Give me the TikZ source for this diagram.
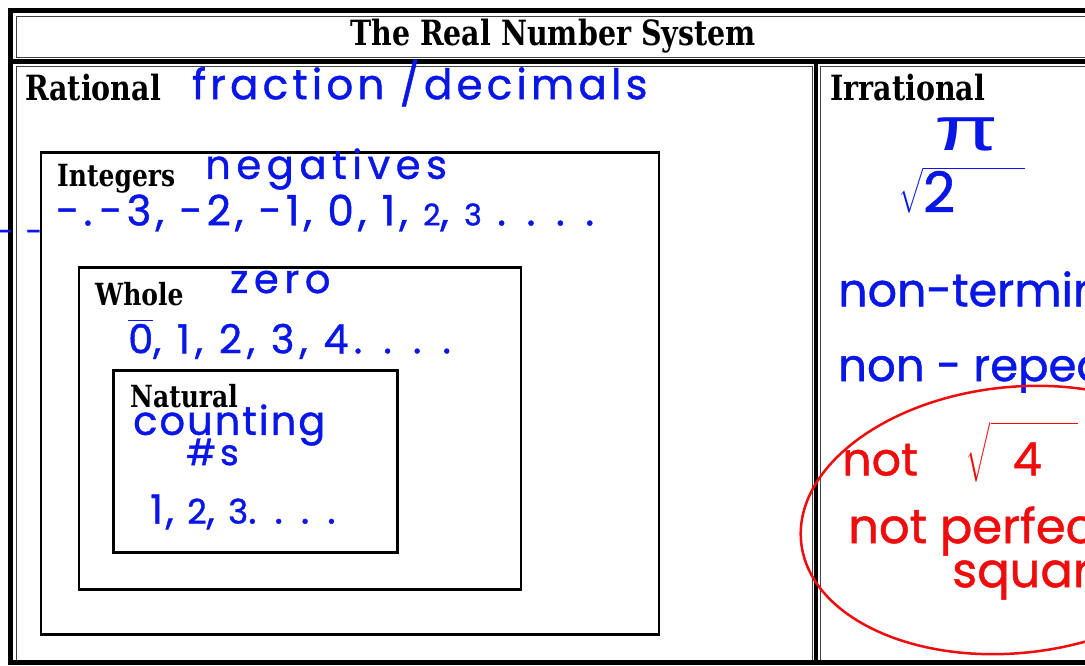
\documentclass[tikz,border=0pt]{standalone}
\usepackage{fontspec}
\usepackage{exscale}
\usetikzlibrary{shadows}
\newfontfamily\headfont{DejaVu Serif}
\newfontfamily\hand{Poppins}[FakeBold=1]
\newfontfamily\greekhand{Liberation Sans}
\definecolor{pen}{RGB}{8,22,232}
\definecolor{redpen}{RGB}{238,12,12}
\newcommand\tall[1]{\scalebox{1}[1.22]{#1}}
\tikzset{
  lbl/.style={anchor=west, inner sep=0pt, font=\headfont\bfseries\fontsize{#1}{#1}\selectfont},
  lbl/.default=25,
  setbox/.style={anchor=north west, draw=black, line width=2.6pt, fill=white, inner sep=0pt,
    drop shadow={shadow xshift=1.2pt, shadow yshift=-1.2pt, fill=black!40, opacity=.7}},
  note/.style n args={2}{anchor=west, inner sep=0pt, text=pen,
    font=\hand\fontsize{#1}{#1}\selectfont\addfontfeature{LetterSpace=#2}},
  thinline/.style={draw=black!75, line width=1pt},
}
\begin{document}
\begin{tikzpicture}[x=1pt, y=-1pt]
    \useasboundingbox (0,0) rectangle (1085,665);
    \fill[white] (0,0) rectangle (1085,665);
    \begin{scope}
    \clip (0,0) rectangle (1085,665);
    % Table frame: thin cell lines, then the heavy rules
    \draw[thinline] (16,16) rectangle (1100,57);
    \draw[thinline] (16,66) rectangle (812.5,662);
    \draw[thinline] (820.5,66) rectangle (1100,662);
    \draw[line width=5pt] (10.5,10.5) rectangle (1100,662.5);
    \draw[line width=4.5pt] (10,61.5) -- (1100,61.5);
    \draw[line width=4.5pt] (816,61) -- (816,663);
    % Title
    \node[lbl=28.5, anchor=center] (title) at (553,36) {\tall{The Real Number System}};
    % Cell labels
    \node[lbl=28.5] (ratlbl) at (25,88) {\tall{Rational}};
    \node[lbl=28.5] (irrlbl) at (830,88) {\tall{Irrational}};
    % Nested sets
    \node[setbox, minimum width=618pt, minimum height=482pt] (intbox) at (39.5,151) {};
    \node[setbox, minimum width=442pt, minimum height=322pt] (wholebox) at (77.5,266) {};
    \node[setbox, minimum width=284pt, minimum height=182pt] (natbox) at (112,369) {};
    \node[lbl] (intlbl) at (57,179) {\tall{Integers}};
    \node[lbl] (wholelbl) at (95,294) {\tall{Whole}};
    \node[lbl] (natlbl) at (130,396) {\tall{Natural}};
    % Handwritten notes, rational side
    \node[note={42}{10}] (ratnote) at (192,83) {fraction /decimals};
    \node[note={40}{14}] (intnote) at (205,169) {negatives};
    \node[note={30}{0}] (dashes) at (-3,236) {-\hspace{12pt}-};
    \node[note={42}{10}] (intlist) at (56,213) {-.\,-3, -2, -1, 0, 1, {\fontsize{30}{30}\selectfont 2}, {\fontsize{30}{30}\selectfont 3} . . . .};
    \node[note={40}{14}] (wholenote) at (230,282) {zero};
    \node[note={40}{13}] (wholelist) at (128,339) {$\overline{\hbox{\hand 0}}$, 1, 2, 3, 4. . . .};
    \node[note={40}{5}] (natnote) at (133,425) {counting};
    \node[note={36}{10}] (natnote2) at (186,452) {\#s};
    \node[note={40}{7}] (natlist) at (150,512) {1, {\fontsize{34}{34}\selectfont 2}, {\fontsize{34}{34}\selectfont 3}. . . .};
    % Handwritten notes, irrational side
    \node[note={62}{0}, anchor=center, font=\greekhand\fontsize{62}{62}\selectfont] (pinote) at (967,134) {\scalebox{1.5}[1]{π}};
    \node[note={56}{0}] (sqrtnote) at (898,190) {$\sqrt{\hbox{\hand 2\hspace{70pt}}}$};
    \node[note={46}{0}] (irrnote1) at (838,295) {non-terminating};
    \node[note={45}{0}] (irrnote2) at (838,370) {non - repeating};
    % Red notes
    \node[note={46}{0}, text=redpen] (rednote1) at (842,452) {not\hspace{48pt}$\sqrt{\hbox{\hand\rule{0pt}{0.95em}\hspace{22pt}4\hspace{36pt}}}$};
    \node[note={48}{0}, text=redpen] (rednote2) at (848,531) {not perfect};
    \node[note={48}{0}, text=redpen] (rednote3) at (952,580) {square};
    \draw[redpen, line width=2.5pt, rotate around={6:(1015,520)}] (1015,520) ellipse [x radius=215, y radius=133];
    \end{scope}
\end{tikzpicture}
\end{document}
